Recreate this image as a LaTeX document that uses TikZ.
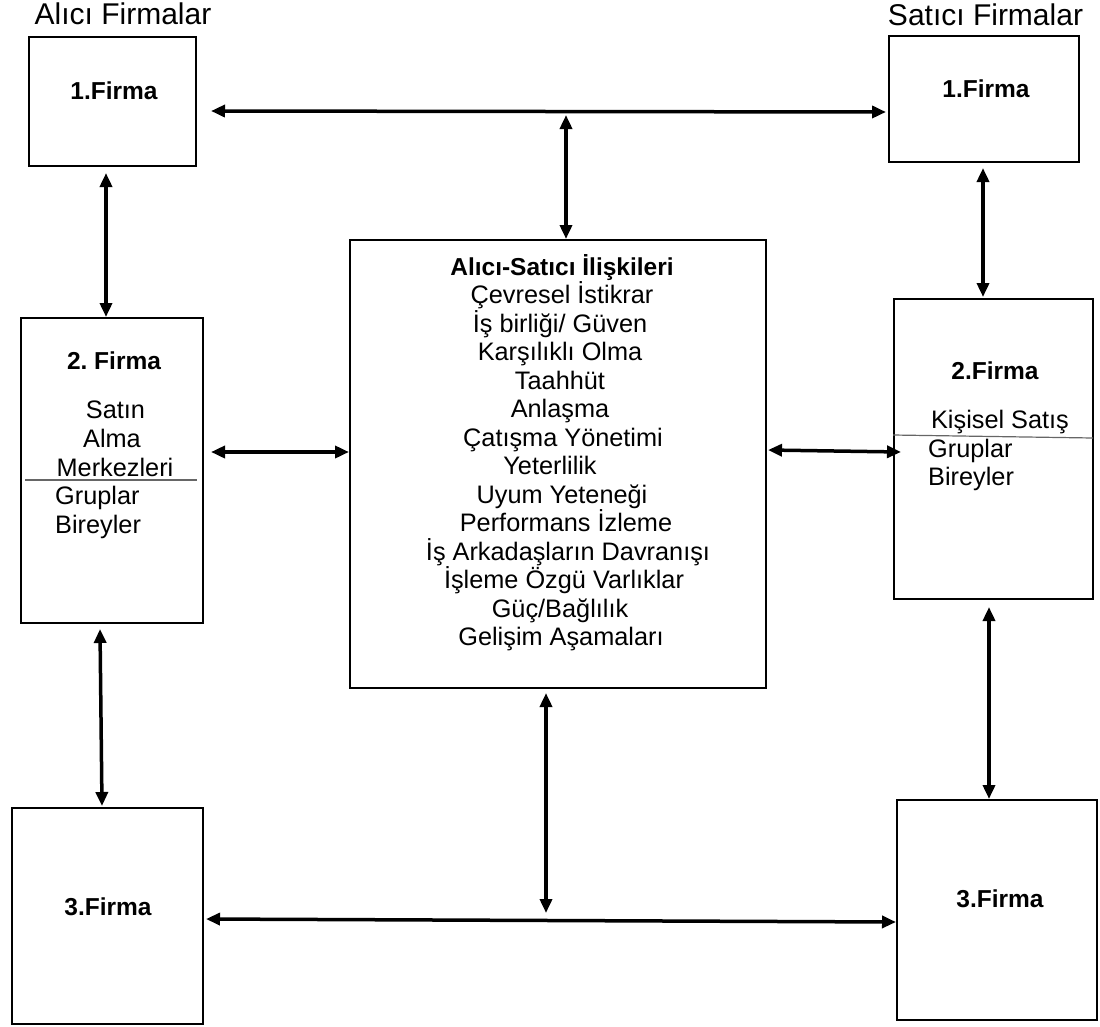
\documentclass[tikz,border=0pt]{standalone}
\usepackage{fontspec}
\setmainfont{Liberation Sans}
\usetikzlibrary{arrows.meta}
\frenchspacing
\tikzset{
 box/.style={draw,line width=2pt,inner sep=0pt},
 arr/.style={line width=3.5pt,{Triangle[length=14pt,width=12pt]}-{Triangle[length=14pt,width=12pt]}},
 ttl/.style={font=\fontsize{30}{34}\selectfont, anchor=base, inner sep=0pt},
 bld/.style={font=\bfseries\fontsize{24.5}{28}\selectfont, anchor=base, inner sep=0pt},
 txt/.style={font=\fontsize{25.3}{28}\selectfont, anchor=base, inner sep=0pt},
 sep/.style={line width=1.2pt, black!60}
}
\begin{document}
\begin{tikzpicture}[x=1pt,y=-1pt]
\useasboundingbox (0,0) rectangle (1100,1026);
% boxes
\node[box,minimum width=167pt,minimum height=129pt] (L1) at (112.5,101.5) {};
\node[box,minimum width=190pt,minimum height=126pt] (R1) at (984,99) {};
\node[box,minimum width=182pt,minimum height=305pt] (L2) at (112,470.5) {};
\node[box,minimum width=199pt,minimum height=300pt] (R2) at (993.5,449) {};
\node[box,minimum width=416pt,minimum height=448pt] (C) at (558,464) {};
\node[box,minimum width=191pt,minimum height=216pt] (L3) at (107.5,916) {};
\node[box,minimum width=200pt,minimum height=220pt] (R3) at (997,910) {};
% titles
\node[ttl] (tA) at (123,24) {Alıcı Firmalar};
\node[ttl] (tS) at (985.5,25) {Satıcı Firmalar};
% box texts
\node[bld] (L1t) at (114,99) {1.Firma};
\node[bld] (R1t) at (986,97) {1.Firma};
\node[bld] (L2t) at (114,369) {2. Firma};
\node[txt] (L2a) at (115.5,418) {Satın};
\node[txt] (L2b) at (112,447) {Alma};
\node[txt] (L2c) at (115,476) {Merkezleri};
\draw[sep] (25,480) -- (197,480);
\node[txt,anchor=base west] (L2d) at (55,504) {Gruplar};
\node[txt,anchor=base west] (L2e) at (55,533) {Bireyler};
\node[bld] (R2t) at (995,379) {2.Firma};
\node[txt] (R2a) at (1000,428) {Kişisel Satış};
\draw[sep] (893,435) -- (1093,438);
\node[txt,anchor=base west] (R2b) at (928,457) {Gruplar};
\node[txt,anchor=base west] (R2c) at (928,485) {Bireyler};
\node[bld] (L3t) at (108,915) {3.Firma};
\node[bld] (R3t) at (1000,907) {3.Firma};
% centre texts
\node[bld] (Ct) at (562,275) {Alıcı-Satıcı İlişkileri};
\foreach \cx/\t [count=\i] in {562/{Çevresel İstikrar},560/{İş birliği/ Güven},560/{Karşılıklı Olma},560/{Taahhüt},560/{Anlaşma},563/{Çatışma Yönetimi},550/{Yeterlilik},562/{Uyum Yeteneği},566/{Performans İzleme},568/{İş Arkadaşların Davranışı},564/{İşleme Özgü Varlıklar},560/{Güç/Bağlılık},561/{Gelişim Aşamaları}}
  \node[txt] (C\i) at (\cx,275+\i*28.5) {\t};
% free ends
\coordinate (ctop) at (566,115);
\coordinate (cbot) at (546,913);
% connectors
\draw[arr] ([shift={(14,9.5)}]L1.east) -- ([shift={(-2,13)}]R1.west);
\draw[arr] ([shift={(-6.5,6)}]L1.south) -- ([shift={(-6,0)}]L2.north);
\draw[arr] (ctop) -- ([shift={(8,0)}]C.north);
\draw[arr] ([shift={(-1,5)}]R1.south) -- ([shift={(-10.5,-1)}]R2.north);
\draw[arr] ([shift={(7,-18.5)}]L2.east) -- ([shift={(0,-12)}]C.west);
\draw[arr] ([shift={(1,-14)}]C.east) -- ([shift={(8,3)}]R2.west);
\draw[arr] ([shift={(-12,5)}]L2.south) -- ([shift={(-5.5,-1)}]L3.north);
\draw[arr] ([shift={(-4.5,7)}]R2.south) -- ([shift={(-8,0)}]R3.north);
\draw[arr] ([shift={(-12,4)}]C.south) -- (cbot);
\draw[arr] ([shift={(2,3)}]L3.east) -- ([shift={(0,12)}]R3.west);
\end{tikzpicture}
\end{document}
